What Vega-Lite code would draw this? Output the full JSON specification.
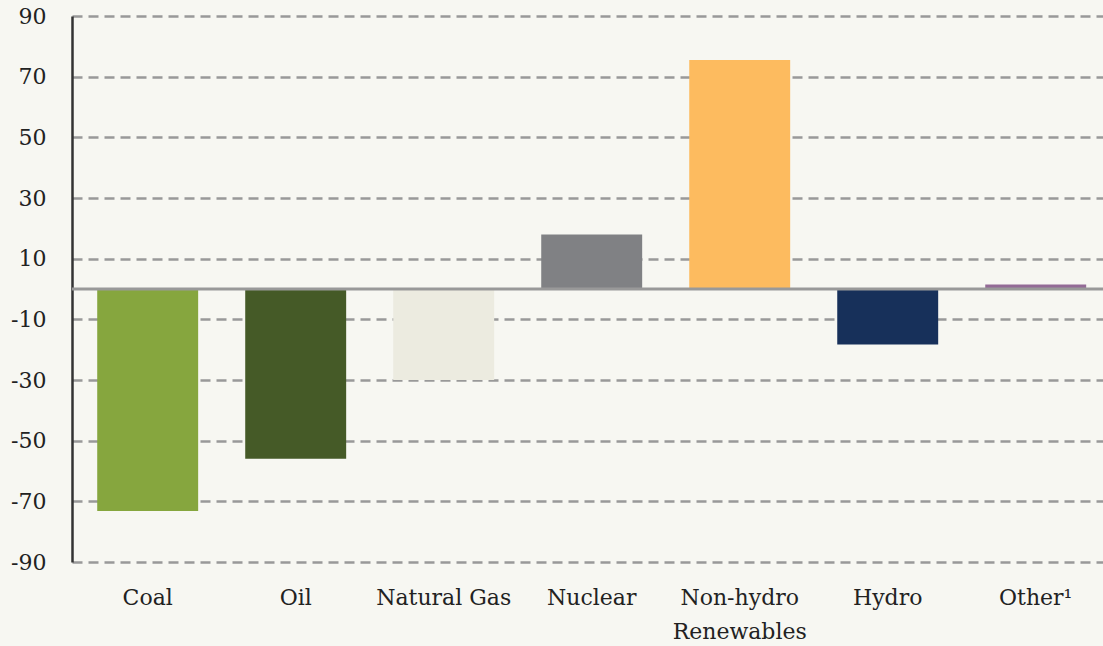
{
  "$schema": "https://vega.github.io/schema/vega-lite/v6.json",
  "autosize": "none",
  "width": 1031,
  "height": 546,
  "padding": {"left": 72, "top": 16, "right": 0, "bottom": 84},
  "background": "#f7f7f2",
  "config": {
    "view": {"stroke": null},
    "font": "DejaVu Serif"
  },
  "data": {
    "values": [
      {"source": "Coal", "change": -73.2},
      {"source": "Oil", "change": -56},
      {"source": "Natural Gas", "change": -30},
      {"source": "Nuclear", "change": 18},
      {"source": "Non-hydro Renewables", "change": 75.5},
      {"source": "Hydro", "change": -18.3},
      {"source": "Other¹", "change": 1.5}
    ]
  },
  "layer": [
    {
      "mark": {"type": "bar"},
      "encoding": {
        "x": {
          "field": "source",
          "type": "nominal",
          "sort": null,
          "scale": {"paddingInner": 0.318, "paddingOuter": 0.142, "align": 0.6},
          "axis": {
            "title": null,
            "domain": false,
            "ticks": false,
            "labelAngle": 0,
            "labelFont": "DejaVu Serif",
            "labelFontSize": 22,
            "labelColor": "#222222",
            "labelPadding": 25,
            "labelLineHeight": 34,
            "labelExpr": "datum.label == 'Non-hydro Renewables' ? ['Non-hydro', 'Renewables'] : datum.label"
          }
        },
        "y": {
          "field": "change",
          "type": "quantitative",
          "scale": {"domain": [-90, 90], "nice": false, "zero": false},
          "axis": {
            "title": null,
            "values": [-90, -70, -50, -30, -10, 10, 30, 50, 70, 90],
            "labelExpr": "toString(datum.value)",
            "domain": true,
            "domainColor": "#333333",
            "domainWidth": 2.5,
            "ticks": false,
            "labelPadding": 26,
            "labelFont": "DejaVu Serif",
            "labelFontSize": 22,
            "labelColor": "#222222",
            "grid": true,
            "gridColor": "#999999",
            "gridWidth": 2.5,
            "gridDash": [10, 6]
          }
        },
        "color": {
          "field": "source",
          "type": "nominal",
          "legend": null,
          "scale": {
            "domain": ["Coal", "Oil", "Natural Gas", "Nuclear", "Non-hydro Renewables", "Hydro", "Other¹"],
            "range": ["#86a63e", "#455a27", "#ecebe0", "#808184", "#fdbb5f", "#17305a", "#936b96"]
          }
        }
      }
    },
    {
      "data": {"values": [{"zero": 0}]},
      "mark": {"type": "rule", "color": "#999999", "strokeWidth": 3},
      "encoding": {
        "y": {"field": "zero", "type": "quantitative"}
      }
    }
  ]
}
